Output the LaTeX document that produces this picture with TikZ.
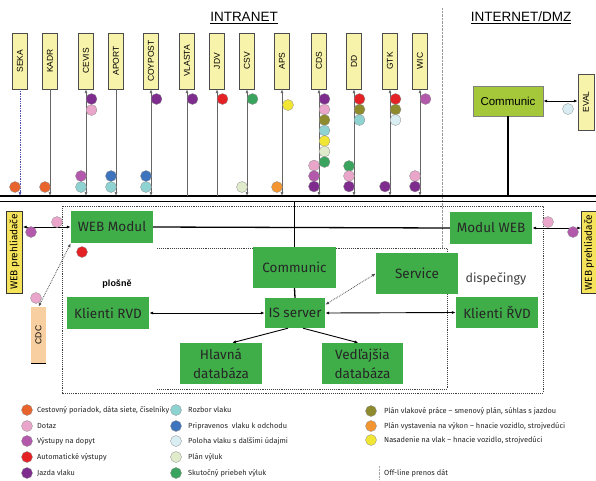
\documentclass[tikz,border=0pt]{standalone}
\usepackage{fontspec}
\setmainfont{Fira Sans}
\newfontfamily\arialfont{Liberation Sans}
\usepackage{tikz}
\usetikzlibrary{positioning, arrows.meta}

% dot colours (legend)
\definecolor{dCpor}{HTML}{E8642C}
\definecolor{dDotaz}{HTML}{EAA5CA}
\definecolor{dVyst}{HTML}{B359AC}
\definecolor{dAuto}{HTML}{E42226}
\definecolor{dJazda}{HTML}{7E2C8E}
\definecolor{dRozbor}{HTML}{8ED3D2}
\definecolor{dPripr}{HTML}{3E74BD}
\definecolor{dPoloha}{HTML}{D9EEF2}
\definecolor{dVyluk}{HTML}{DFEBCB}
\definecolor{dSkut}{HTML}{3AA45F}
\definecolor{dPrace}{HTML}{8E8A2E}
\definecolor{dVystav}{HTML}{F39530}
\definecolor{dNasad}{HTML}{F2E634}
% box colours
\definecolor{sysyellow}{HTML}{F8F3AA}
\definecolor{webyellow}{HTML}{F6E35C}
\definecolor{cdcpeach}{HTML}{F8CFA0}
\definecolor{modgreen}{HTML}{3FAE49}
\definecolor{dmzgreen}{HTML}{A5C83B}

\newcommand{\trdot}[3]{\filldraw[fill=#3, draw=black!45, line width=0.3pt] (#1,#2) circle (5.5);}

\tikzset{
  >={Latex[length=4pt,width=3pt]},
  sysbox/.style={draw=black!70, fill=sysyellow, rotate=90, minimum width=56pt,
    minimum height=15pt, inner sep=0pt, font=\arialfont\fontsize{8.5}{9}\selectfont},
  webbox/.style={draw=black!80, fill=webyellow, rotate=90, minimum width=82pt,
    minimum height=16pt, inner sep=0pt, font=\fontsize{10}{10}\selectfont},
  modbox/.style={fill=modgreen, text=black!85, inner sep=0pt, align=center,
    font=\fontsize{13.5}{19}\selectfont},
  dmzbox/.style={fill=dmzgreen, draw=black!50, minimum width=70pt, minimum height=30pt,
    inner sep=0pt, font=\arialfont\fontsize{11.5}{13}\selectfont},
  title/.style={font=\arialfont\fontsize{13.5}{15}\selectfont, inner sep=0pt},
  syslink/.style={draw=black!60, line width=0.7pt},
  plain/.style={draw=black, line width=0.9pt},
  dotlink/.style={draw=black!70, line width=0.8pt, densely dotted},
  legtext/.style={anchor=west, inner sep=0pt, font=\fontsize{7.4}{8}\selectfont, text=black!85}
}

\begin{document}
\begin{tikzpicture}[x=1pt, y=-1pt]
\useasboundingbox (0,0) rectangle (596,480);

% headings and divider
\node[title] (intra) at (244,18) {\underline{INTRANET}};
\node[title] (inet) at (521,18) {\underline{INTERNET/DMZ}};
\draw[densely dotted, black!40] (442,8) -- (442,248);

% bus
\coordinate (bus) at (0,196);
\coordinate (busb) at (0,201.5);
\draw[line width=1.6pt] (0,196) -- (596,196);
\draw[line width=1.6pt] (0,201.5) -- (596,201.5);

% systems in the intranet
\node[sysbox] (seka) at (20,61) {SEKA};
\node[sysbox] (kadr) at (50,61) {KADR};
\node[sysbox] (cevis) at (86,61) {CEVIS};
\node[sysbox] (aport) at (116,61) {APORT};
\node[sysbox] (coypost) at (151,61) {COYPOST};
\node[sysbox] (vlasta) at (187,61) {VLASTA};
\node[sysbox] (jdv) at (217,61) {JDV};
\node[sysbox] (csv) at (247,61) {CSV};
\node[sysbox] (aps) at (282,61) {APS};
\node[sysbox] (cds) at (319,61) {CDS};
\node[sysbox] (dd) at (354,61) {DD};
\node[sysbox] (gtk) at (390,61) {GTK};
\node[sysbox] (wic) at (420,61) {WIC};

\draw[syslink, draw=blue!40!gray, densely dotted, ->] (seka.west) -- (seka.west |- bus);
\draw[syslink, ->] (kadr.west) -- (kadr.west |- bus);
\draw[syslink, <->] (cevis.west) -- (cevis.west |- bus);
\draw[syslink, ->] (aport.west) -- (aport.west |- bus);
\draw[syslink, <->] (coypost.west) -- (coypost.west |- bus);
\draw[syslink, <-] (vlasta.west) -- (vlasta.west |- bus);
\draw[syslink, <-] (jdv.west) -- (jdv.west |- bus);
\draw[syslink, <->] (csv.west) -- (csv.west |- bus);
\draw[syslink, <->] (aps.west) -- (aps.west |- bus);
\draw[syslink, <->] (cds.west) -- (cds.west |- bus);
\draw[syslink, <->] (dd.west) -- (dd.west |- bus);
\draw[syslink, <->] (gtk.west) -- (gtk.west |- bus);
\draw[syslink, <->] (wic.west) -- (wic.west |- bus);

% data flows on the system lines
\trdot{15}{187}{dCpor}
\trdot{45}{187}{dCpor}
\trdot{91.5}{99}{dJazda}
\trdot{91.5}{110}{dDotaz}
\trdot{81}{176}{dVyst}
\trdot{81}{187}{dRozbor}
\trdot{111}{176}{dPripr}
\trdot{111}{187}{dRozbor}
\trdot{156.5}{99}{dJazda}
\trdot{146}{176}{dPripr}
\trdot{146}{187}{dRozbor}
\trdot{192.5}{99}{dJazda}
\trdot{222.5}{99}{dAuto}
\trdot{252.5}{99}{dSkut}
\trdot{242}{187}{dVyluk}
\trdot{288}{105}{dNasad}
\trdot{277}{187}{dVystav}
% CDS
\trdot{324.5}{99}{dJazda}
\trdot{324.5}{109.5}{dDotaz}
\trdot{324.5}{120}{dPrace}
\trdot{324.5}{130.5}{dRozbor}
\trdot{324.5}{141}{dNasad}
\trdot{324.5}{151.5}{dVyluk}
\trdot{324.5}{162}{dSkut}
\trdot{314}{165.5}{dDotaz}
\trdot{314}{176}{dVyst}
\trdot{314}{186.5}{dJazda}
% DD
\trdot{359.5}{99}{dAuto}
\trdot{359.5}{109.5}{dPrace}
\trdot{359.5}{120}{dRozbor}
\trdot{349}{166}{dSkut}
\trdot{349}{176}{dDotaz}
\trdot{349}{186.5}{dJazda}
% GTK, WIC
\trdot{395.5}{99}{dAuto}
\trdot{395.5}{109.5}{dPrace}
\trdot{395.5}{120}{dPoloha}
\trdot{385}{186.5}{dJazda}
\trdot{425.5}{99}{dVyst}
\trdot{415}{176}{dDotaz}
\trdot{415}{186.5}{dJazda}

% DMZ
\node[dmzbox] (commdmz) at (508,101) {Communic};
\node[sysbox, minimum height=16pt] (eval) at (586,102) {EVAL};
\draw[plain, <->] (commdmz.east) -- (commdmz.east -| eval.north);
\draw[line width=1.3pt] (commdmz.south) -- (commdmz.south |- bus);
\trdot{568}{109}{dPoloha}

% frames
\draw[densely dotted, line width=0.9pt, black!75] (62,206) rectangle (543,393);
\draw[densely dotted, line width=0.9pt, black!75] (157,248) -- (447,248) -- (447,389) -- (157,389);

% modules
\node[modbox, minimum width=82pt, minimum height=32pt] (webmod) at (112,227) {WEB Modul};
\node[modbox, minimum width=82pt, minimum height=32pt] (modweb) at (491,228) {Modul WEB};
\node[modbox, minimum width=83pt, minimum height=41pt] (commc) at (294.5,267.5) {Communic};
\node[modbox, minimum width=60pt, minimum height=30pt] (issrv) at (295,313) {IS server};
\node[modbox, minimum width=82pt, minimum height=32pt] (klrvd) at (108,313) {Klienti RVD};
\node[modbox, minimum width=82pt, minimum height=41pt] (service) at (417,273.5) {Service};
\node[modbox, minimum width=82pt, minimum height=31pt] (klrvdr) at (497,312.5) {Klienti ŘVD};
\node[modbox, minimum width=82pt, minimum height=41pt] (hlavna) at (221,363.5) {Hlavná\\databáza};
\node[modbox, minimum width=81pt, minimum height=41pt] (vedl) at (362.5,363.5) {Vedľajšia\\databáza};

\node[font=\arialfont\bfseries\fontsize{9}{11}\selectfont] (plosne) at (117,284) {plošně};
\node[font=\fontsize{12.5}{14}\selectfont, text=black!75] (disp) at (496,279) {dispečingy};

% browsers and CDC
\node[webbox] (webl) at (14.5,252) {WEB prehliadače};
\node[webbox, minimum height=15pt] (webr) at (589,252.5) {WEB prehliadače};
\node[sysbox, fill=cdcpeach, draw=none] (cdc) at (38.5,335) {CDC};
\draw[black, line width=0.8pt] (cdc.north west) -- (cdc.south west);

% connections
\draw[line width=1.3pt] (webmod.east) -- (modweb.west);
\draw[line width=1.3pt] (commc.north) -- (commc.north |- busb);
\draw[line width=1.3pt] (commc.south) -- (issrv.north);
\draw[plain, <->] (webmod.west) -- (webmod.west -| webl.south);
\draw[plain, <->] (modweb.east) -- (modweb.east -| webr.north);
\draw[dotlink, <->] (webmod.south west) -- (cdc.east);
\draw[plain, <->] (klrvd.east) -- (issrv.west);
\draw[plain, <->] (issrv.east) -- (klrvdr.west);
\draw[dotlink, <->] ([yshift=-7pt]issrv.north east) -- (service.west);
\draw[plain, ->] ([xshift=-7pt]issrv.south) -- ([xshift=11pt]hlavna.north);
\draw[plain, ->] ([xshift=8pt]issrv.south) -- ([xshift=-4pt]vedl.north);

\trdot{57}{222}{dDotaz}
\trdot{31}{232}{dVyst}
\trdot{548}{222}{dDotaz}
\trdot{573}{232}{dVyst}
\trdot{82}{252}{dAuto}
\trdot{36}{298}{dDotaz}

% legend
\trdot{27}{410}{dCpor}
\trdot{27}{426}{dDotaz}
\trdot{27}{441}{dVyst}
\trdot{27}{457}{dAuto}
\trdot{27}{473}{dJazda}
\node[legtext] (l1) at (37,410) {Cestovný poriadok, dáta siete, číselníky};
\node[legtext] (l2) at (37,426) {Dotaz};
\node[legtext] (l3) at (37,441) {Výstupy na dopyt};
\node[legtext] (l4) at (37,457) {Automatické výstupy};
\node[legtext] (l5) at (37,473) {Jazda vlaku};

\trdot{176}{410}{dRozbor}
\trdot{176}{426}{dPripr}
\trdot{176}{441}{dPoloha}
\trdot{176}{457}{dVyluk}
\trdot{176}{473}{dSkut}
\node[legtext] (l6) at (188,410) {Rozbor vlaku};
\node[legtext] (l7) at (188,426) {Pripravenos\ \ vlaku k odchodu};
\node[legtext] (l8) at (188,441) {Poloha vlaku s ďalšími údajmi};
\node[legtext] (l9) at (188,457) {Plán výluk};
\node[legtext] (l10) at (188,473) {Skutočný priebeh výluk};

\trdot{371}{411}{dPrace}
\trdot{371}{426}{dVystav}
\trdot{371}{440}{dNasad}
\node[legtext] (l11) at (384,411) {Plán vlakové práce -- smenový plán, súhlas s jazdou};
\node[legtext] (l12) at (384,426) {Plán vystavenia na výkon -- hnacie vozidlo, strojvedúci};
\node[legtext] (l13) at (384,440) {Nasadenie na vlak -- hnacie vozidlo, strojvedúci};
\draw[densely dotted, black!35] (379,466) -- (379,480);
\node[legtext] (l14) at (384,473) {Off-line prenos dát};
\end{tikzpicture}
\end{document}
